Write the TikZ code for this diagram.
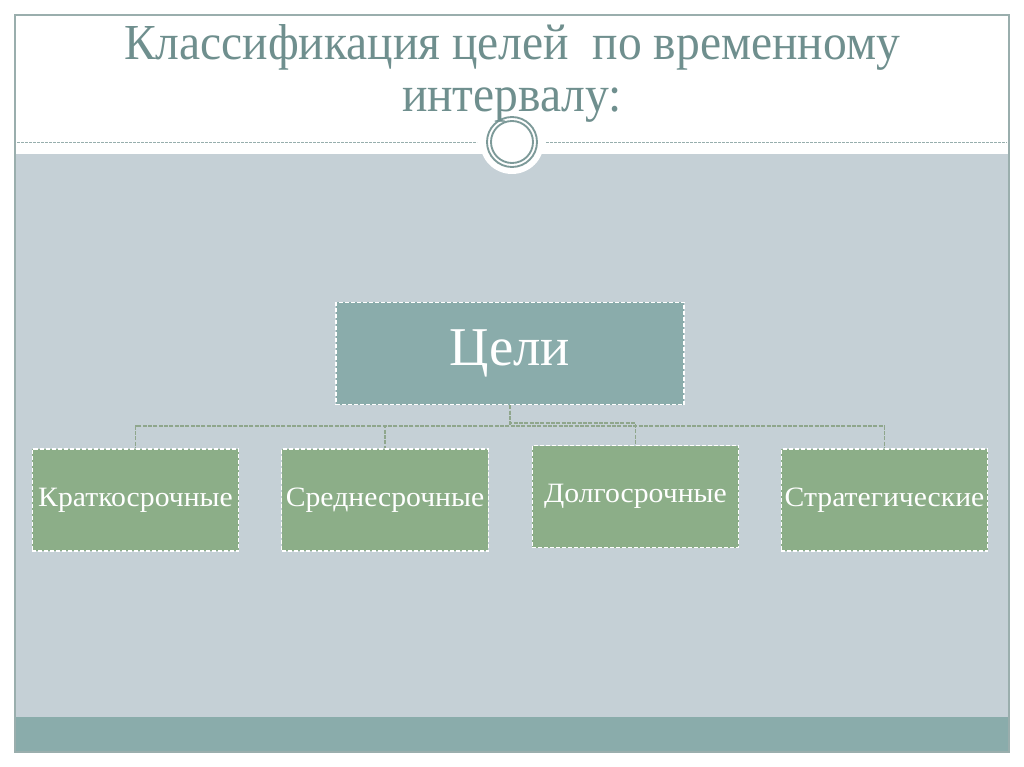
\documentclass[tikz,border=0pt]{standalone}
\usepackage{fontspec}
\setmainfont{Liberation Serif}
\usetikzlibrary{calc}
\definecolor{bggray}{HTML}{C5D0D6}
\definecolor{teal}{HTML}{8AACAB}
\definecolor{sage}{HTML}{8CAE88}
\definecolor{titlec}{HTML}{6F8F8E}
\definecolor{framec}{HTML}{9AAEAD}
\definecolor{connc}{HTML}{8FA68C}
\definecolor{ringc}{HTML}{7D9A99}
\newcommand{\lbl}[1]{\scalebox{1.06}[1]{#1}}
\tikzset{
  topbox/.style={draw=white, dashed, dash pattern=on 3pt off 1.5pt, line width=0.8pt, fill=teal, minimum width=261pt, minimum height=77pt, inner sep=0pt, text=white, font=\fontsize{41}{44}\selectfont},
  leafbox/.style={draw=white, dashed, dash pattern=on 3pt off 1.5pt, line width=0.8pt, fill=sage, minimum width=155pt, minimum height=76.5pt, inner sep=0pt, text=white, font=\fontsize{21}{24}\selectfont},
  conn/.style={draw=connc, dash pattern=on 3pt off 1pt, line width=1.1pt},
  titletext/.style={text=titlec, font=\fontsize{36}{40}\selectfont, inner sep=0pt, anchor=base}
}
\begin{document}
\begin{tikzpicture}[x=0.75pt,y=-0.75pt]
\useasboundingbox (0,0) rectangle (1024,767);
\fill[white] (0,0) rectangle (1024,767);
% slide frame
\fill[bggray] (15,154) rectangle (1009,717);
\fill[teal] (15,717) rectangle (1009,752);
\draw[framec, line width=1.2pt] (15,15) rectangle (1009,752);
% dotted title rule
\draw[ringc!80, dash pattern=on 2pt off 1pt, line width=0.7pt] (17,142) -- (477,142);
\draw[ringc!80, dash pattern=on 2pt off 1pt, line width=0.7pt] (546,142) -- (1007,142);
% medallion
\fill[white] (512,142) circle (32);
\draw[ringc, line width=1.4pt] (512,142) circle (25);
\draw[ringc, line width=1.4pt] (512,142) circle (21);
% title
\node[titletext] (t1) at (512,60) {\scalebox{0.99}[1.05]{Классификация целей \ по временному}};
\node[titletext] (t2) at (512,112) {\scalebox{0.99}[1.05]{интервалу:}};
% boxes
\node[topbox] (top) at (510,353.5) {Цели};
\node[leafbox] (k) at (135.5,500) {\lbl{Краткосрочные}};
\node[leafbox] (s) at (385,500) {\lbl{Среднесрочные}};
\node[leafbox] (d) at (635.5,496.5) {\lbl{Долгосрочные}};
\node[leafbox] (st) at (884.5,500) {\lbl{Стратегические}};
% connectors
\coordinate (bus) at (0,426);
\coordinate (busd) at (0,423);
\draw[conn] (top.south) -- (top.south |- bus) -| (k.north);
\draw[conn] (top.south) -- (top.south |- bus) -| (s.north);
\draw[conn] (top.south) -- (top.south |- bus) -| (st.north);
\draw[conn] (top.south) -- (top.south |- busd) -| (d.north);
\end{tikzpicture}
\end{document}
